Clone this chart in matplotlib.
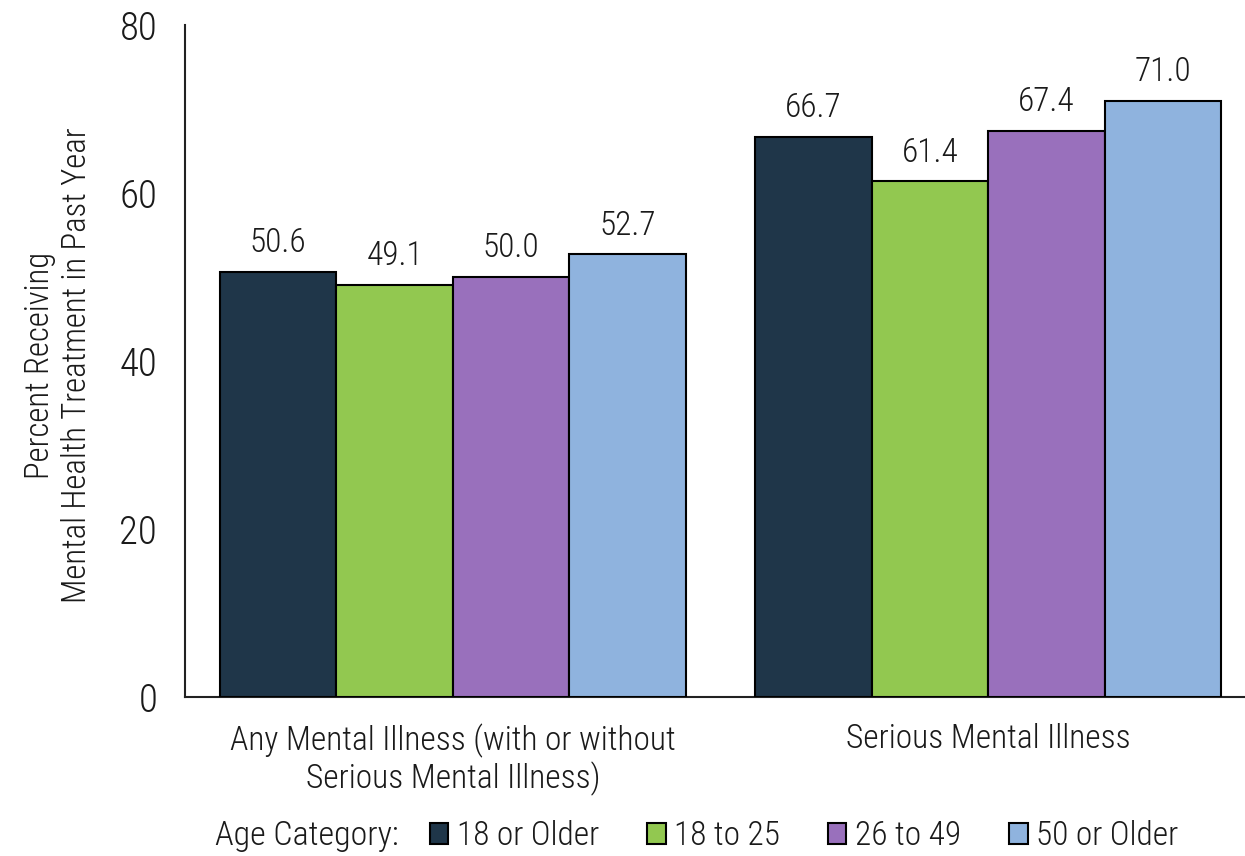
import matplotlib
matplotlib.use("Agg")
import matplotlib.pyplot as plt
import numpy as np
from matplotlib.patches import Patch

categories = ["Any Mental Illness (with or without\nSerious Mental Illness)", "Serious Mental Illness"]
series_names = ["18 or Older", "18 to 25", "26 to 49", "50 or Older"]
values_18_older = [50.6, 66.7]
values_18_25 = [49.1, 61.4]
values_26_49 = [50.0, 67.4]
values_50_older = [52.7, 71.0]
yticks = [0, 20, 40, 60, 80]
colors = ["#1F3649", "#92C850", "#9970BC", "#8FB3DE"]

series = [values_18_older, values_18_25, values_26_49, values_50_older]

plt.rcParams['font.family'] = ['Roboto Condensed', 'Liberation Sans Narrow', 'Liberation Sans', 'DejaVu Sans']
plt.rcParams['font.weight'] = 'light'
TXT = "#1a1a1a"

fig = plt.figure(figsize=(12.45, 8.56), dpi=100)
ax = fig.add_axes([185/1245, 1-697/856, 1-185/1245, (697-25)/856])

x = np.arange(len(categories))
w = 0.2176
for i, (vals, c) in enumerate(zip(series, colors)):
    pos = x + (i - 1.5) * w
    ax.bar(pos, vals, width=w, color=c, edgecolor="black", linewidth=1.5, zorder=3)
    for p, v in zip(pos, vals):
        ax.text(p, v + 1.5, f"{v:.1f}", ha="center", va="bottom", fontsize=24, color=TXT)

ax.set_xlim(-0.5005, 1.48)
ax.set_ylim(0, 80)
ax.set_yticks(yticks)
ax.set_yticklabels([str(t) for t in yticks], fontsize=28, color=TXT)
ax.set_xticks(x)
ax.set_xticklabels(categories, fontsize=24, color=TXT, linespacing=1.15)
ax.tick_params(axis="y", length=0, pad=20)
ax.tick_params(axis="x", length=0, pad=19)
for s in ["top", "right"]:
    ax.spines[s].set_visible(False)
for s in ["left", "bottom"]:
    ax.spines[s].set_linewidth(1.5)
    ax.spines[s].set_color("#222222")

fig.text(59/1245, 1-365/856, "Percent Receiving\nMental Health Treatment in Past Year",
         rotation=90, ha="center", va="center", fontsize=23.5, color=TXT, linespacing=1.2)

handles = [Patch(facecolor=c, edgecolor="black", linewidth=1.5) for c in colors]
fig.text(215/1245, 1-836/856, "Age Category:", ha="left", va="center", fontsize=24.5, color=TXT)
leg = fig.legend(handles, series_names, loc="center left", bbox_to_anchor=(430/1245, 1-836/856),
                 ncol=4, frameon=False, fontsize=24, handlelength=0.55, handleheight=0.6,
                 handletextpad=0.25, columnspacing=1.45, borderaxespad=0, borderpad=0)
for t in leg.get_texts():
    t.set_color(TXT)

fig.savefig("out.png", dpi=100)
